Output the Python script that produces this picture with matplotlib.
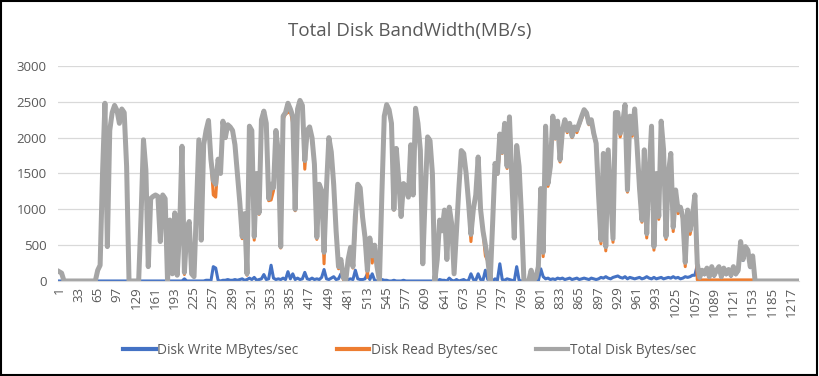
import numpy as np
import matplotlib
matplotlib.use('Agg')
import matplotlib.pyplot as plt
from matplotlib.patches import Rectangle

# ── Data (one value every 4 samples) ─────────────────────────
total = [
    130, 110, 0, 0, 0, 0, 0, 0,
    0, 0, 0, 0, 0, 0, 0, 0,
    150, 220, 1500, 2480, 480, 2100, 2350, 2450,
    2380, 2200, 2400, 2350, 1600, 0, 0, 0,
    0, 0, 900, 1970, 1550, 200, 1150, 1180,
    1200, 1180, 550, 1200, 1150, 0, 850, 100,
    950, 80, 700, 1880, 120, 700, 830, 100,
    60, 1000, 1970, 570, 1900, 2100, 2240, 1700,
    1400, 1350, 1700, 1500, 2230, 2000, 2180, 2150,
    2100, 1900, 1500, 1100, 620, 940, 100, 2160,
    2100, 620, 1500, 950, 2250, 2370, 2200, 1150,
    1350, 1300, 2100, 1800, 480, 2300, 2350, 2480,
    2400, 2300, 1000, 2400, 2520, 2450, 1680, 2100,
    2150, 2000, 1630, 610, 1350, 1260, 400, 1300,
    2000, 1800, 1350, 700, 200, 300, 50, 0,
    300, 470, 200, 900, 1350, 1300, 890, 610,
    150, 600, 350, 500, 200, 0, 1200, 2300,
    2460, 2390, 2200, 1000, 1850, 1400, 900, 1360,
    1310, 1170, 1900, 1200, 2410, 2200, 1820, 240,
    1200, 2010, 1960, 1500, 0, 300, 850, 700,
    990, 300, 1030, 800, 100, 700, 1300, 1820,
    1780, 1500, 1100, 650, 1000, 1200, 1730, 1000,
    700, 500, 300, 0, 800, 1640, 1500, 2050,
    1800, 2200, 1600, 2290, 1400, 600, 1890, 1600,
    900, 0, 0, 0, 150, 0, 50, 200,
    1290, 400, 2160, 1360, 1600, 2300, 2000, 2230,
    1690, 2100, 2250, 2100, 2200, 2020, 2150, 2110,
    2200, 2300, 2390, 2345, 2200, 2250, 2060, 1920,
    1200, 570, 1780, 480, 1830, 1200, 590, 2350,
    2350, 2060, 2200, 2460, 1270, 2300, 2060, 2400,
    1880, 1300, 850, 1830, 660, 1500, 2160, 480,
    1500, 900, 2230, 1830, 620, 1500, 1780, 750,
    1270, 990, 1030, 890, 260, 990, 710, 900,
    1200, 240, 50, 150, 100, 180, 60, 200,
    80, 150, 200, 60, 180, 100, 160, 80,
    200, 100, 150, 550, 300, 480, 430, 200,
    350, 0, 0, 0, 0, 0, 0, 0,
    0, 0, 0, 0, 0, 0, 0, 0,
    0, 0, 0, 0,
]

write = [
    0, 0, 0, 0, 0, 0, 0, 0,
    0, 0, 0, 0, 0, 0, 0, 0,
    0, 0, 0, 0, 0, 0, 0, 0,
    0, 0, 0, 0, 0, 0, 0, 0,
    0, 0, 0, 0, 0, 0, 0, 0,
    0, 0, 0, 0, 0, 0, 0, 0,
    0, 0, 0, 0, 30, 0, 0, 0,
    0, 0, 0, 0, 0, 10, 10, 0,
    200, 180, 10, 0, 10, 10, 20, 10,
    10, 20, 10, 20, 30, 10, 20, 40,
    20, 50, 10, 20, 30, 90, 20, 30,
    220, 40, 20, 30, 20, 40, 20, 130,
    30, 100, 20, 40, 20, 30, 120, 30,
    20, 40, 20, 30, 20, 50, 160, 30,
    20, 40, 60, 20, 30, 100, 30, 20,
    20, 30, 20, 150, 30, 20, 20, 30,
    100, 20, 100, 10, 0, 0, 20, 10,
    10, 0, 0, 10, 0, 0, 0, 10,
    0, 0, 0, 0, 0, 0, 0, 0,
    0, 0, 0, 0, 0, 0, 20, 10,
    10, 0, 40, 10, 0, 20, 0, 10,
    20, 0, 10, 100, 20, 10, 100, 20,
    10, 150, 20, 10, 0, 30, 10, 240,
    20, 10, 30, 20, 10, 0, 200, 10,
    0, 0, 0, 0, 0, 0, 0, 0,
    170, 60, 30, 40, 20, 30, 20, 40,
    30, 40, 20, 30, 40, 20, 30, 40,
    20, 30, 40, 30, 20, 40, 30, 20,
    30, 50, 40, 60, 40, 30, 50, 60,
    70, 50, 40, 60, 30, 50, 40, 30,
    40, 50, 30, 40, 60, 40, 30, 50,
    30, 40, 50, 30, 40, 50, 40, 60,
    40, 50, 30, 40, 60, 50, 60, 80,
    80, 225, 35, 135, 85, 165, 45, 185,
    65, 135, 185, 45, 165, 85, 145, 65,
    185, 85, 135, 535, 285, 465, 415, 185,
    335, 0, 0, 0, 0, 0, 0, 0,
    0, 0, 0, 0, 0, 0, 0, 0,
    0, 0, 0, 0,
]

sample = np.arange(1, 1230, 4)
total = np.array(total)
write = np.array(write)
read = total - write          # total = read + write

tick_pos = np.arange(1, 1218, 32)
tick_lab = [str(t) for t in tick_pos]

# ── Plot ──────────────────────────────────────────────────────
plt.rcParams['font.family'] = ['Open Sans', 'DejaVu Sans']
txt = '#595959'

fig = plt.figure(figsize=(8.19, 3.76), dpi=100)
ax = fig.add_axes([0.0708, 0.2527, 0.9048, 0.5718])

ax.plot(sample, write, color='#4472C4', lw=2.2, label='Disk Write MBytes/sec', solid_joinstyle='round')
ax.plot(sample, read,  color='#ED7D31', lw=2.2, label='Disk Read Bytes/sec',   solid_joinstyle='round')
ax.plot(sample, total, color='#A5A5A5', lw=3.6, label='Total Disk Bytes/sec',  solid_joinstyle='round')

ax.set_xlim(-1, 1230)
ax.set_ylim(0, 3000)
ax.set_yticks(np.arange(0, 3001, 500))
ax.set_xticks(tick_pos)
ax.set_xticklabels(tick_lab, rotation=90)
ax.tick_params(axis='both', length=0, labelsize=9.5, colors=txt)
ax.tick_params(axis='y', pad=8)
ax.tick_params(axis='x', pad=4)
ax.yaxis.grid(True, color='#D9D9D9', lw=0.9)
ax.set_axisbelow(True)
for s in ['top', 'right', 'left']:
    ax.spines[s].set_visible(False)
ax.spines['bottom'].set_color('#D9D9D9')

fig.text(0.5, 0.918, 'Total Disk BandWidth(MB/s)', ha='center', va='center',
         fontsize=13.5, color=txt)

leg = fig.legend(loc='center', bbox_to_anchor=(0.5, 0.069), ncol=3, frameon=False,
                 fontsize=9.8, labelcolor=txt, handlelength=2.4, handletextpad=0.1,
                 columnspacing=2.8)
for h in leg.get_lines():
    h.set_linewidth(3.0)

fig.patches.append(Rectangle((0.001, 0.002), 0.997, 0.995, transform=fig.transFigure,
                             fill=False, edgecolor='black', lw=1.5))

plt.savefig('out.png', dpi=100)
